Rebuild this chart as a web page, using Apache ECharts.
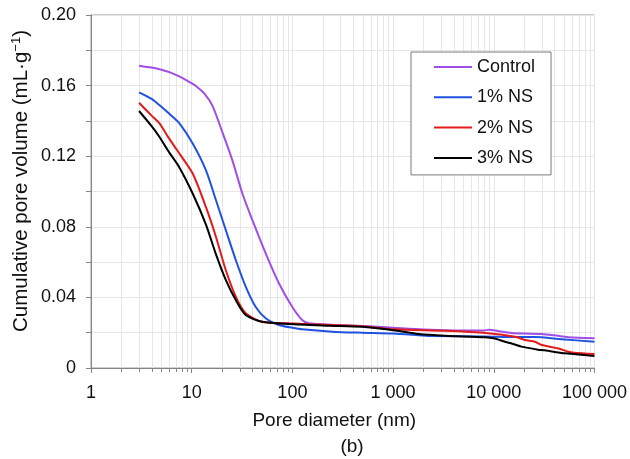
<!DOCTYPE html>
<html>
<head>
<meta charset="utf-8">
<script src="https://cdn.jsdelivr.net/npm/echarts@6/dist/echarts.min.js"></script>
<style>
  html, body { margin: 0; padding: 0; background: #fff; }
  #chart { width: 630px; height: 459px; }
</style>
</head>
<body>
<div id="chart"></div>
<script>
// Cumulative pore volume (mL/g) against pore diameter (nm), one [diameter, volume] list per mix
const seriesNames = ['Control', '1% NS', '2% NS', '3% NS'];
const seriesColors = ['#a04fe6', '#1f52e0', '#e31b1b', '#000000'];

const control = [
  [3, 0.1713], [4, 0.1702], [5, 0.169], [6, 0.1676], [7.52, 0.1652], [9, 0.1628],
  [11, 0.1598], [13.5, 0.1552], [16.1, 0.1485], [20.2, 0.1335], [25.4, 0.1175],
  [31.8, 0.099], [40, 0.0839], [54.3, 0.065], [73.5, 0.048], [99.5, 0.0347],
  [125, 0.0272], [146, 0.0253], [250, 0.0245], [500, 0.0238], [1000, 0.0228],
  [2000, 0.0218], [4000, 0.0213], [8000, 0.0212], [9000, 0.0217], [11000, 0.0209],
  [15000, 0.0198], [20000, 0.0195], [30000, 0.0193], [40000, 0.0185], [55000, 0.0174],
  [100000, 0.0168]
];

const ns1 = [
  [3, 0.1562], [4, 0.1525], [4.77, 0.149], [6, 0.144], [7.52, 0.1387], [10.2, 0.1273],
  [13.8, 0.1122], [17.4, 0.0952], [21.8, 0.0782], [27.4, 0.0612], [34.4, 0.0461],
  [43.1, 0.0347], [54.3, 0.0282], [73.5, 0.0244], [100, 0.0228], [125, 0.0219],
  [250, 0.0206], [490, 0.0200], [1000, 0.0195], [1800, 0.0185], [2250, 0.0181],
  [8000, 0.0179], [16000, 0.0175], [25500, 0.0175], [47000, 0.0163], [100000, 0.0149]
];

const ns2 = [
  [3, 0.1503], [4, 0.143], [4.77, 0.1387], [6, 0.1298], [7.2, 0.1232], [10.2, 0.1103],
  [13.8, 0.0914], [17.4, 0.0744], [21.8, 0.0555], [27.4, 0.0404], [34.4, 0.031],
  [50, 0.0262], [92, 0.0253], [146, 0.0248], [230, 0.0244], [490, 0.0237],
  [1050, 0.0219], [3300, 0.0211], [8830, 0.0197], [16300, 0.0177], [20400, 0.0159],
  [25600, 0.0149], [30000, 0.0130], [43800, 0.0111], [55000, 0.0092], [63000, 0.0087],
  [100000, 0.0079]
];

const ns3 = [
  [3, 0.1456], [4, 0.137], [4.77, 0.131], [6, 0.122], [7.52, 0.1138], [10.2, 0.0990],
  [13.8, 0.0815], [17.4, 0.0645], [21.8, 0.0499], [27.4, 0.0385], [34.4, 0.030],
  [50, 0.0262], [92, 0.0249], [230, 0.0240], [490, 0.0234], [1050, 0.0213],
  [1800, 0.0193], [3300, 0.0183], [8180, 0.0174], [10000, 0.0168], [12900, 0.0149],
  [14800, 0.0140], [18800, 0.0121], [27500, 0.0104], [32000, 0.0100], [46900, 0.0085],
  [51000, 0.0083], [100000, 0.0068]
];

const seriesData = [control, ns1, ns2, ns3];

// Axis ticks: decades on x, volume steps on y
const xTicks = [1, 10, 100, 1000, 10000, 100000];
const yMin = 0, yMax = 0.2, yStep = 0.04;

// Intermediate positions 2..9 in every decade, for minor grid lines and ticks
const minorX = [];
xTicks.slice(0, -1).forEach(function (d) {
  for (let k = 2; k <= 9; k++) minorX.push(k * d);
});

const FONT = '"Liberation Sans", Arial, sans-serif';
const GRID_COLOR = '#e6e6e6';
const AXIS_COLOR = '#858585';

function groupThousands(v) {
  return String(Math.round(v)).replace(/\B(?=(\d{3})+(?!\d))/g, ' ');
}

const chart = echarts.init(document.getElementById('chart'), null, { renderer: 'canvas' });

const lineSeries = seriesNames.map(function (name, i) {
  return {
    name: name,
    type: 'line',
    data: seriesData[i],
    symbol: 'none',
    smooth: 0.25,
    z: 3,
    lineStyle: { color: seriesColors[i], width: 2 },
    itemStyle: { color: seriesColors[i] }
  };
});

const minorSeries = {
  type: 'custom',
  silent: true,
  z: 1,
  clip: false,
  data: minorX.map(function (v) { return [v, 0]; }),
  encode: { x: 0, y: 1 },
  renderItem: function (params, api) {
    const cs = params.coordSys;
    const x = Math.round(api.coord([api.value(0), 0])[0]) + 0.5;
    const top = cs.y, bottom = cs.y + cs.height;
    return {
      type: 'group',
      children: [
        { type: 'line', shape: { x1: x, y1: top, x2: x, y2: bottom },
          style: { stroke: GRID_COLOR, lineWidth: 1 } },
        { type: 'line', shape: { x1: x, y1: bottom, x2: x, y2: bottom + 4 },
          style: { stroke: AXIS_COLOR, lineWidth: 1 } }
      ]
    };
  }
};

chart.setOption({
  animation: false,
  backgroundColor: '#ffffff',
  textStyle: { fontFamily: FONT },
  grid: {
    left: 91, right: 33, top: 15, bottom: 91,
    show: true, borderColor: '#9a9a9a', borderWidth: 1, backgroundColor: '#ffffff'
  },
  legend: {
    data: seriesNames,
    orient: 'vertical',
    left: 411, top: 52,
    padding: [6, 16, 8, 22],
    itemGap: 12.3,
    itemWidth: 38,
    itemHeight: 18,
    itemStyle: { opacity: 0 },
    backgroundColor: '#ffffff',
    borderColor: '#7a7a7a',
    borderWidth: 1,
    textStyle: { fontFamily: FONT, fontSize: 18, color: '#111' }
  },
  xAxis: {
    type: 'log',
    logBase: 10,
    min: xTicks[0],
    max: xTicks[xTicks.length - 1],
    name: 'Pore diameter (nm)',
    nameLocation: 'middle',
    nameGap: 43,
    nameTextStyle: { fontFamily: FONT, fontSize: 19, color: '#111', padding: [0, 17, 0, 0] },
    axisLine: { show: true, lineStyle: { color: AXIS_COLOR, width: 1 } },
    axisTick: { show: true, inside: false, length: 5, lineStyle: { color: AXIS_COLOR } },
    minorTick: { show: false },
    splitLine: { show: true, lineStyle: { color: GRID_COLOR, width: 1 } },
    axisLabel: {
      fontFamily: FONT, fontSize: 18, color: '#111', margin: 16,
      formatter: groupThousands
    }
  },
  yAxis: {
    type: 'value',
    min: yMin,
    max: yMax,
    interval: yStep,
    axisLine: { show: true, lineStyle: { color: AXIS_COLOR, width: 1 } },
    axisTick: { show: true, inside: false, length: 5, lineStyle: { color: AXIS_COLOR } },
    minorTick: { show: true, splitNumber: 2, length: 5, lineStyle: { color: AXIS_COLOR } },
    splitLine: { show: true, lineStyle: { color: GRID_COLOR, width: 1 } },
    minorSplitLine: { show: true, lineStyle: { color: GRID_COLOR, width: 1 } },
    axisLabel: {
      fontFamily: FONT, fontSize: 18, color: '#111', margin: 15,
      formatter: function (v) { return v === 0 ? '0' : v.toFixed(2); }
    }
  },
  graphic: [
    {
      type: 'text',
      x: 21, y: 181,
      rotation: Math.PI / 2,
      style: {
        text: '{a|Cumulative pore volume (mL·g}{s|−1}{a|)}',
        align: 'center',
        verticalAlign: 'middle',
        rich: {
          a: { fontFamily: FONT, fontSize: 20.5, lineHeight: 23, fill: '#111', color: '#111' },
          s: { fontFamily: FONT, fontSize: 13, lineHeight: 23, verticalAlign: 'top', fill: '#111', color: '#111' }
        }
      }
    },
    {
      type: 'text',
      x: 352, y: 447,
      style: {
        text: '(b)',
        align: 'center',
        verticalAlign: 'middle',
        font: '19px ' + FONT,
        fill: '#111'
      }
    }
  ],
  series: [minorSeries].concat(lineSeries)
});
</script>
</body>
</html>
